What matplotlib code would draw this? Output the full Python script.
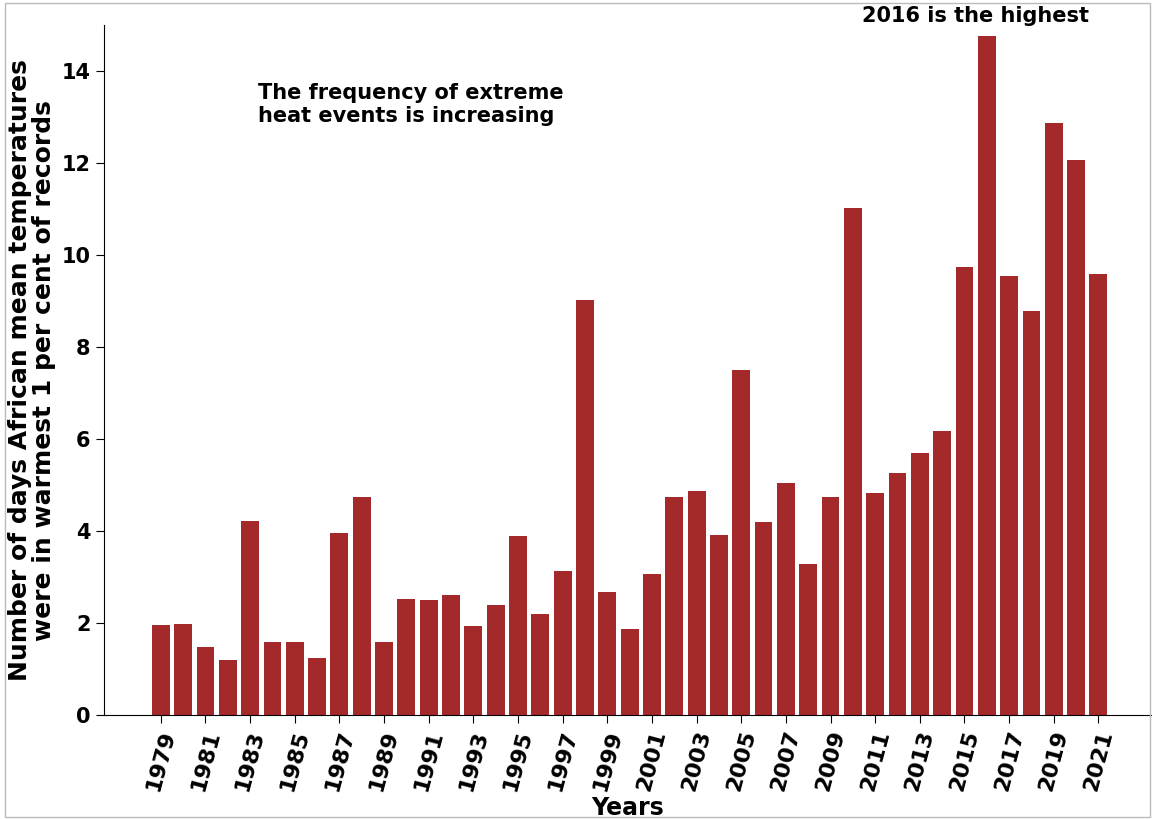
import matplotlib
matplotlib.use("Agg")
import matplotlib.pyplot as plt

years = list(range(1979, 2022))
values = [1.96, 1.98, 1.48, 1.2, 4.22, 1.59, 1.59, 1.24, 3.96, 4.74, 1.59, 2.52, 2.5, 2.61,
          1.93, 2.39, 3.89, 2.2, 3.13, 9.02, 2.67, 1.87, 3.07, 4.74, 4.87, 3.91, 7.5, 4.2,
          5.04, 3.28, 4.74, 11.02, 4.83, 5.26, 5.7, 6.17, 9.74, 14.76, 9.54, 8.78, 12.87,
          12.07, 9.59]
tick_years = list(range(1979, 2022, 2))

fig = plt.figure(figsize=(11.52, 8.19), dpi=100)
fig.patches.append(plt.Rectangle((0.004, 0.002), 0.994, 0.994, transform=fig.transFigure,
                                 fill=False, edgecolor="#bbbbbb", linewidth=1))
ax = fig.add_axes([0.09, 0.127, 0.91, 0.842])
ax.bar(years, values, width=0.8, color="#a4292b")
ax.set_xlim(1976.44, 2023.4)
ax.set_ylim(0, 15)
ax.set_xticks(tick_years)
ax.set_xticklabels([str(y) for y in tick_years], rotation=75, fontsize=16, fontweight="bold",
                   ha="center")
ax.set_yticks(range(0, 15, 2))
ax.tick_params(axis="y", labelsize=15)
for t in ax.get_yticklabels():
    t.set_fontweight("bold")
ax.tick_params(length=6)
ax.spines["top"].set_visible(False)
ax.spines["right"].set_visible(False)
ax.set_xlabel("Years", fontsize=17, fontweight="bold", labelpad=2)
ax.set_ylabel("Number of days African mean temperatures\nwere in warmest 1 per cent of records",
              fontsize=18, fontweight="bold", linespacing=1.0)
ax.text(1983.35, 13.75, "The frequency of extreme\nheat events is increasing", fontsize=15,
        fontweight="bold", va="top", ha="left")
ax.text(2010.4, 14.98, "2016 is the highest", fontsize=15, fontweight="bold", va="bottom",
        ha="left", clip_on=False)
fig.savefig("out.png", dpi=100)
